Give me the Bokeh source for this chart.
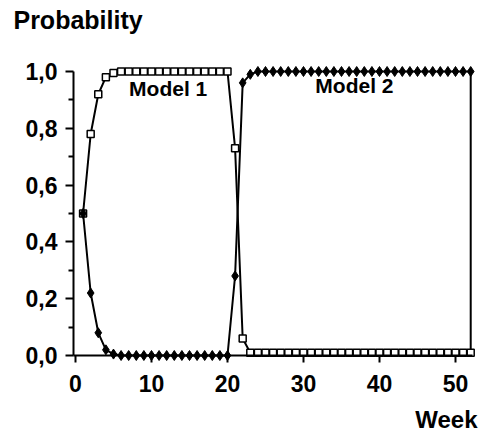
from bokeh.plotting import figure
from bokeh.models import Range1d, Label, FixedTicker, CustomJSTickFormatter
from bokeh.embed import file_html
from bokeh.resources import INLINE

weeks = list(range(1, 53))
model1 = [0.50, 0.78, 0.92, 0.98, 0.995,
          1.0, 1.0, 1.0, 1.0, 1.0, 1.0, 1.0, 1.0, 1.0, 1.0,
          1.0, 1.0, 1.0, 1.0, 1.0,
          0.73, 0.06,
          0.01, 0.01, 0.01, 0.01, 0.01, 0.01, 0.01, 0.01, 0.01, 0.01,
          0.01, 0.01, 0.01, 0.01, 0.01, 0.01, 0.01, 0.01, 0.01, 0.01,
          0.01, 0.01, 0.01, 0.01, 0.01, 0.01, 0.01, 0.01, 0.01, 0.01]
model2 = [0.50, 0.22, 0.08, 0.02, 0.005,
          0.0, 0.0, 0.0, 0.0, 0.0, 0.0, 0.0, 0.0, 0.0, 0.0,
          0.0, 0.0, 0.0, 0.0, 0.0,
          0.28, 0.96,
          0.99, 1.0, 1.0, 1.0, 1.0, 1.0, 1.0, 1.0, 1.0, 1.0,
          1.0, 1.0, 1.0, 1.0, 1.0, 1.0, 1.0, 1.0, 1.0, 1.0,
          1.0, 1.0, 1.0, 1.0, 1.0, 1.0, 1.0, 1.0, 1.0, 1.0]
x_ticks = [0, 10, 20, 30, 40, 50]
y_ticks = [0.0, 0.2, 0.4, 0.6, 0.8, 1.0]
y_minor = [0.1, 0.3, 0.5, 0.7, 0.9]

FONT = "Liberation Sans"
X0 = -0.26   # where the y axis crosses

p = figure(width=481, height=436, output_backend="svg", toolbar_location=None,
           x_range=Range1d(-9.865, 53.42), y_range=Range1d(-0.2852, 1.25),
           min_border=0, min_border_left=0, min_border_right=0,
           min_border_top=0, min_border_bottom=0)
p.outline_line_color = None
p.xgrid.visible = False
p.ygrid.visible = False
p.background_fill_color = "white"
p.border_fill_color = "white"

# axes
for ax in (p.xaxis[0], p.yaxis[0]):
    ax.axis_line_width = 2
    ax.axis_line_color = "black"
    ax.major_tick_line_width = 2
    ax.minor_tick_line_width = 2
    ax.major_tick_in = 0
    ax.minor_tick_in = 0
    ax.major_label_text_font = FONT
    ax.major_label_text_font_style = "bold"
    ax.major_label_text_font_size = "23px"
    ax.major_label_text_color = "black"

p.xaxis.fixed_location = 0
p.xaxis.bounds = (X0, 52.3)
p.xaxis.ticker = FixedTicker(ticks=x_ticks)
p.xaxis.major_tick_out = 7
p.xaxis.minor_tick_out = 0
p.xaxis.major_label_standoff = 12

p.yaxis.fixed_location = X0
p.yaxis.ticker = FixedTicker(ticks=y_ticks, minor_ticks=y_minor)
p.yaxis.bounds = (0, 1)
p.yaxis.major_tick_out = 8
p.yaxis.minor_tick_out = 5
p.yaxis.major_label_standoff = 8
p.yaxis.formatter = CustomJSTickFormatter(code="return tick.toFixed(1).replace('.', ',');")

# series
p.line(weeks, model1, line_color="black", line_width=2)
p.line(weeks, model2, line_color="black", line_width=2)
p.segment(x0=[weeks[-1]], y0=[0.0], x1=[weeks[-1]], y1=[model2[-1]], line_color="black", line_width=2)
p.scatter(weeks, model1, marker="square", size=7, fill_color="white", line_color="black", line_width=1.5)
p.scatter(weeks, model2, marker="diamond", size=10, fill_color="black", line_color="black", line_width=1)

# texts
def lab(x, y, t, size, align="left"):
    p.add_layout(Label(x=x, y=y, text=t, text_font=FONT, text_font_style="bold",
                       text_font_size=size, text_align=align, text_baseline="alphabetic",
                       text_color="black"))

lab(12.2, 0.941, "Model 1", "21px", "center")
lab(36.7, 0.951, "Model 2", "21px", "center")
lab(-8.16, 1.183, "Probability", "25px", "left")
lab(52.9, -0.2255, "Week", "24px", "right")

open("out.html", "w").write(file_html(p, INLINE))
